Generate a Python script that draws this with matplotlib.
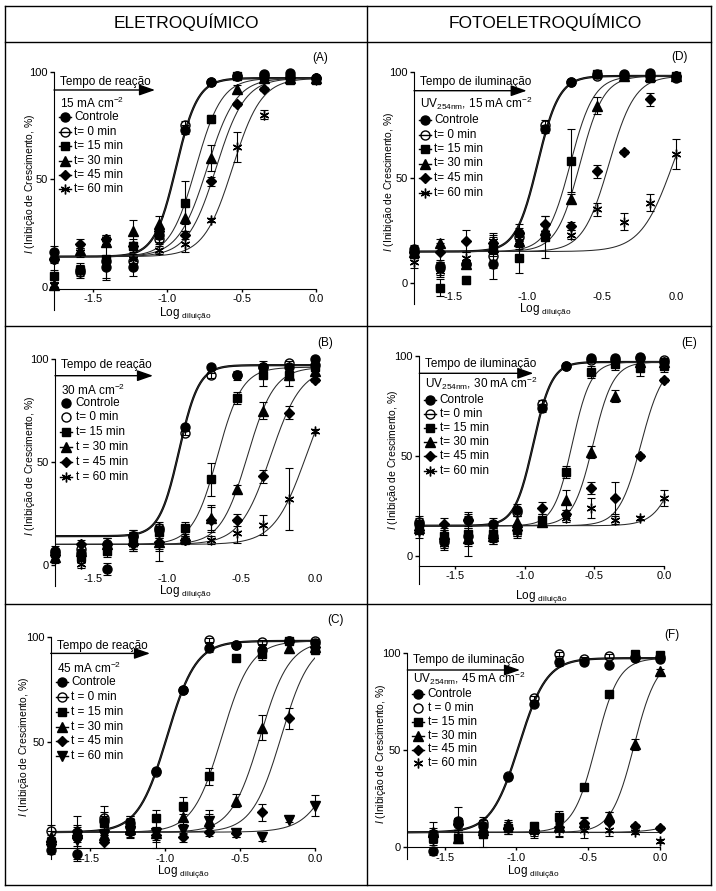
import numpy as np
import matplotlib
matplotlib.use('Agg')
import matplotlib.pyplot as plt
from matplotlib.lines import Line2D
from matplotlib.patches import FancyArrowPatch, ArrowStyle
from matplotlib import transforms

plt.rcParams['font.family'] = ['Liberation Sans', 'DejaVu Sans']
plt.rcParams['mathtext.fontset'] = 'custom'
plt.rcParams['mathtext.rm'] = 'Liberation Sans'
plt.rcParams['mathtext.it'] = 'Liberation Sans:italic'
plt.rcParams['mathtext.default'] = 'regular'

nan = np.nan

# log of the dilution (1.5-fold series)
LOGDIL = [-1.76, -1.584, -1.408, -1.232, -1.056, -0.88, -0.704, -0.528, -0.352, -0.176, 0.0]

# ---------------- Panel A : eletroquimico 15 mA cm-2 ----------------
A_ctrl = [16, 8, 9, 9, 24, 73, 95, 98, 99, 99.5, 97]
A_t0 = [13, 7, 12, 12, 22, 75, 95, 98, 98, 98, 97]
A_t15 = [5, 8, 13, 19, 25, 39, 78, 98, 98, 96, 96]
A_t30 = [1, 17, 21, 26, 29, 32, 60, 92, 97, 97, 97]
A_t45 = [13, 20, 22, 19, 26, 24, 49, 85, 92, 97, 97]
A_t60 = [1, 16, 22, 13, 17, 20, 31, 65, 80, 97, 96]
A_ctrl_e = [3, 2, 5, 4, 3, 2, 1, 1, 1, 1, 1]
A_t0_e = [2, 3, 2, 2, 2, 2, 1, 1, 1, 1, 1]
A_t15_e = [3, 3, 10, 3, 3, 10, 2, 1, 1, 1, 1]
A_t30_e = [1, 2, 2, 5, 4, 6, 6, 2, 1, 1, 1]
A_t45_e = [1, 2, 2, 2, 2, 2, 2, 1, 1, 1, 1]
A_t60_e = [1, 2, 2, 2, 2, 4, 1, 7, 2, 1, 1]
A_bottom = [14, 14, 14, 14, 14, 14]
A_top = [97, 97, 97, 97, 97, 97]
A_ec50 = [-0.94, -0.94, -0.807, -0.73, -0.67, -0.56]
A_hill = [6, 6, 5, 4.5, 4.5, 4.5]

# ---------------- Panel B : eletroquimico 30 mA cm-2 ----------------
B_ctrl = [7, 6, -2, 14, 17, 67, 96, 92, 96, 96, 100]
B_t0 = [6, 8, 10, 14, 18, 64, 92, 92, 96, 98, 97]
B_t15 = [6, 4, 7, 12, 16, 18, 41.6, 81, 92, 92, 96]
B_t30 = [4, 7, 10, 12, 11, 13, 23, 37, 75, 92, 94]
B_t45 = [5, 10, 10, 10, 11, 12, 22, 22, 43, 74, 90]
B_t60 = [3, 0.5, 8, 10, 10, 12, 12, 15.7, 19.4, 32, 65]
B_ctrl_e = [2, 2, 3, 3, 2, 1, 1, 2, 3, 1, 1]
B_t0_e = [2, 2, 3, 3, 3, 1, 1, 1, 1, 1, 1]
B_t15_e = [2, 3, 3, 4, 3, 3, 8, 3, 5, 5, 2]
B_t30_e = [2, 2, 3, 4, 9, 3, 6, 2, 4, 2, 2]
B_t45_e = [2, 2, 3, 3, 3, 2, 6, 3, 3, 3, 1]
B_t60_e = [2, 2, 3, 3, 3, 2, 2, 5, 5, 15, 1]
B_bottom = [14, 14, 10, 10, 10, 10]
B_top = [97, 97, 96, 96, 96, 96]
B_ec50 = [-0.92, -0.92, -0.66, -0.457, -0.30, -0.06]
B_hill = [6.5, 6.5, 5.2, 4.8, 4.2, 4.0]

# ---------------- Panel C : eletroquimico 45 mA cm-2 ----------------
C_ctrl = [-1, -3, 13, 10, 36.6, 74.8, 94.8, 96, 93.7, 98, 97]
C_t0 = [8, 5, 14, 12, 36, 75, 98.4, 96, 97.3, 98, 98]
C_t15 = [3, 6, 12, 12, 14, 20, 34, 90, 92, 98, 93.7]
C_t30 = [5, 7, 6, 9, 7, 14.5, 13, 22.4, 57, 94.5, 95]
C_t45 = [2, 8, 3, 7.7, 6, 5, 7.7, 7, 17, 61.4, 95]
C_t60 = [1, 4, 6, 8, 7, 8.5, 12.9, 7, 5.4, 13.2, 20]
C_ctrl_e = [2, 3, 7, 4, 1, 1, 2, 1, 3, 1, 1]
C_t0_e = [3, 10, 3, 3, 1, 1, 1, 1, 1, 1, 1]
C_t15_e = [3, 3, 3, 3, 4, 4, 4, 1, 3, 1, 1]
C_t30_e = [3, 3, 3, 3, 7, 3, 5, 3, 6, 2, 1]
C_t45_e = [3, 3, 3, 3, 3, 2, 2, 2, 4, 5, 1]
C_t60_e = [3, 3, 3, 3, 3, 2, 3, 2, 2, 1, 5]
C_bottom = [7.5, 7.5, 7.5, 7.5, 7.5, 7.5]
C_top = [98, 98, 98, 98, 98, 98]
C_ec50 = [-0.985, -0.985, -0.62, -0.365, -0.225, 0.2]
C_hill = [4.5, 4.5, 4.5, 4.5, 4.5, 4.0]

# ---------------- Panel D : fotoeletroquimico 15 mA cm-2 ----------------
D_ctrl = [16, 8, 9, 9, 24, 73, 95, 99, 99, 99.5, 97]
D_t0 = [15, 7, 9, 13, 22, 75, 95, 98, 98, 98, 98]
D_t15 = [14, -2, 1.5, 16, 12, 22, 58, 99, 98, 97, 98]
D_t30 = [15, 19, 9, 17, 20, 25, 40, 84, 98, 98, 98]
D_t45 = [15, 15, 20, 19, 24, 28, 27, 53, 62, 87, 98]
D_t60 = [10, 6, 12, 20, 20, 24, 23, 35, 29, 38, 61]
D_ctrl_e = [2, 2, 2, 2, 2, 2, 1, 1, 1, 1, 1]
D_t0_e = [2, 3, 2, 11, 2, 2, 1, 1, 1, 1, 1]
D_t15_e = [2, 4, 2, 3, 7, 10, 15, 1, 1, 1, 1]
D_t30_e = [2, 2, 2, 3, 3, 3, 2, 4, 1, 1, 1]
D_t45_e = [2, 4, 5, 3, 4, 4, 2, 3, 1, 3, 1]
D_t60_e = [3, 3, 3, 3, 4, 3, 2, 3, 4, 4, 7]
D_bottom = [15, 15, 15, 15, 15, 15]
D_top = [98, 98, 98, 98, 98, 98]
D_ec50 = [-0.93, -0.93, -0.71, -0.645, -0.45, -0.02]
D_hill = [6, 6, 5.5, 5.5, 5, 4]

# ---------------- Panel E : fotoeletroquimico 30 mA cm-2 ----------------
E_ctrl = [16, 8, 18, 16, 23, 74, 95, 99, 99, 99.3, 97]
E_t0 = [17, 7, 10, 10, 22, 76, 95, 98, 98, 99, 98]
E_t15 = [15, 10, 11, 11, 13, 18, 42, 92, 96, 94, 95]
E_t30 = [14, 11, 9, 10, 17, 17, 28, 52, 80, 97, 97]
E_t45 = [13, 16, 18, 9, 13, 24, 21, 34, 29, 50, 88]
E_t60 = [12, 6, 8, 12, 12, 17, 19, 24, 18, 19, 29]
E_ctrl_e = [3, 2, 4, 3, 3, 2, 1, 1, 1, 1, 1]
E_t0_e = [3, 3, 10, 4, 2, 2, 1, 1, 1, 1, 1]
E_t15_e = [3, 3, 3, 3, 3, 3, 3, 3, 3, 4, 3]
E_t30_e = [3, 3, 3, 3, 3, 2, 5, 3, 3, 1, 2]
E_t45_e = [2, 3, 3, 3, 3, 3, 2, 3, 8, 1, 1]
E_t60_e = [3, 3, 3, 3, 3, 2, 2, 5, 2, 1, 4]
E_bottom = [15, 15, 15, 15, 15, 15]
E_top = [97, 97, 97, 97, 97, 97]
E_ec50 = [-0.94, -0.94, -0.66, -0.51, -0.165, 0.144]
E_hill = [6.5, 6.5, 6.5, 6, 5.5, 5]

# ---------------- Panel F : fotoeletroquimico 45 mA cm-2 ----------------
F_ctrl = [nan, -2, 13.6, 11, 36, 74, 95.7, 95.7, 94, 97.4, 97]
F_t0 = [nan, 7, 12, 12.7, 37, 77, 99.7, 97, 98.8, 98, 98]
F_t15 = [nan, 5, 5, 7, 10, 11, 15.5, 31, 79, 99.5, 99]
F_t30 = [nan, 8, 5, 9, 12, 10, 11, 13, 16, 53, 91]
F_t45 = [nan, 6, 12, 8, 10, 9, 10.3, 12.4, 13, 11.2, 9.8]
F_t60 = [nan, 4, 6, 9, 10, 8, 9, 9, 9, 7.7, 3.4]
F_ctrl_e = [nan, 2, 7, 3, 1, 1, 2, 1, 1, 1, 1]
F_t0_e = [nan, 3, 3, 3, 1, 1, 1, 1, 1, 1, 1]
F_t15_e = [nan, 3, 3, 7, 2, 2, 3, 1, 1, 1, 1]
F_t30_e = [nan, 5, 3, 3, 2, 2, 2, 2, 2, 3, 1]
F_t45_e = [nan, 3, 3, 3, 3, 3, 5, 3, 5, 1, 1]
F_t60_e = [nan, 3, 3, 3, 3, 3, 3, 4, 3, 1, 1]
F_bottom = [7.7, 7.7, 7.7, 7.7, 7.7, 7.7]
F_top = [97.5, 97.5, 97.5, 97.5, 97.5, 97.5]
F_ec50 = [-0.982, -0.982, -0.446, -0.18, 0.4, nan]
F_hill = [4.5, 4.5, 5.5, 5.5, 4, nan]

LABELS_A = ['Controle', 't= 0 min', 't= 15 min', 't= 30 min', 't= 45 min', 't= 60 min']
LABELS_B = ['Controle', 't= 0 min', 't= 15 min', 't = 30 min', 't = 45 min', 't = 60 min']
LABELS_C = ['Controle', 't = 0 min', 't = 15 min', 't = 30 min', 't = 45 min', 't = 60 min']
LABELS_F = ['Controle', 't = 0 min', 't= 15 min', 't= 30 min', 't= 45 min', 't= 60 min']

# ---------------- styles ----------------
STAR = (6, 2, 0)
MARKERS = ['o', 'o', 's', '^', 'D', STAR]
MSIZE = {'o': 6.5, 's': 5.5, '^': 6.5, 'D': 4.8, 'v': 6.5, STAR: 7}

W, H = 716, 891
fig = plt.figure(figsize=(W / 100, H / 100), dpi=100)


def px(x, y):
    return (x / W, 1 - y / H)


def sigmoid(x, bottom, top, ec50, hill):
    return bottom + (top - bottom) / (1 + 10 ** ((ec50 - x) * hill))


panels = [
    dict(tag='(A)', data=[A_ctrl, A_t0, A_t15, A_t30, A_t45, A_t60],
         err=[A_ctrl_e, A_t0_e, A_t15_e, A_t30_e, A_t45_e, A_t60_e],
         fit=(A_bottom, A_top, A_ec50, A_hill), labels=LABELS_A, lines=[1, 1, 1, 1, 1, 1],
         title='Tempo de reação', cond='15 mA cm$^{-2}$', m6=STAR,
         xl=54, x0=316, y100=71.7, y0=286.7, ymin=-11, xline=-1, xvis=True,
         ylab_x=30, xlab_y=314, tag_xy=(320, 58),
         arr=(18.3, 101), tdy=10, cdy=31.6, e0=45.6, es=14.4),
    dict(tag='(B)', data=[B_ctrl, B_t0, B_t15, B_t30, B_t45, B_t60],
         err=[B_ctrl_e, B_t0_e, B_t15_e, B_t30_e, B_t45_e, B_t60_e],
         fit=(B_bottom, B_top, B_ec50, B_hill), labels=LABELS_B, lines=[0, 0, 1, 1, 1, 1],
         title='Tempo de reação', cond='30 mA cm$^{-2}$', m6=STAR,
         xl=55, x0=315, y100=359, y0=565, ymin=-10, xline=-1.5, xvis=False,
         ylab_x=30, xlab_y=591, tag_xy=(325, 343),
         arr=(16.7, 98), tdy=6, cdy=31.7, e0=43.7, es=14.8),
    dict(tag='(C)', data=[C_ctrl, C_t0, C_t15, C_t30, C_t45, C_t60],
         err=[C_ctrl_e, C_t0_e, C_t15_e, C_t30_e, C_t45_e, C_t60_e],
         fit=(C_bottom, C_top, C_ec50, C_hill), labels=LABELS_C, lines=[1, 1, 1, 1, 1, 1],
         title='Tempo de reação', cond='45 mA cm$^{-2}$', m6='v',
         xl=50.7, x0=315, y100=636.7, y0=848, ymin=-5, xline=0, xvis=True, hide0=True,
         ylab_x=24, xlab_y=871, tag_xy=(335, 620),
         arr=(16.7, 99.3), tdy=9, cdy=31.7, e0=45.7, es=14.7),
    dict(tag='(D)', data=[D_ctrl, D_t0, D_t15, D_t30, D_t45, D_t60],
         err=[D_ctrl_e, D_t0_e, D_t15_e, D_t30_e, D_t45_e, D_t60_e],
         fit=(D_bottom, D_top, D_ec50, D_hill), labels=LABELS_A, lines=[1, 1, 1, 1, 1, 1],
         title='Tempo de iluminação', cond='UV$_{254nm}$, 15 mA cm$^{-2}$', m6=STAR,
         xl=414, x0=676, y100=71.7, y0=283.3, ymin=-10, xline=-1.5, xvis=False,
         ylab_x=389, xlab_y=310, tag_xy=(680, 57),
         arr=(19, 112.7), tdy=10, cdy=31.6, e0=48.3, es=14.5),
    dict(tag='(E)', data=[E_ctrl, E_t0, E_t15, E_t30, E_t45, E_t60],
         err=[E_ctrl_e, E_t0_e, E_t15_e, E_t30_e, E_t45_e, E_t60_e],
         fit=(E_bottom, E_top, E_ec50, E_hill), labels=LABELS_A, lines=[1, 1, 1, 1, 1, 1],
         title='Tempo de iluminação', cond='UV$_{254nm}$, 30 mA cm$^{-2}$', m6=STAR,
         xl=419.3, x0=664, y100=356, y0=555.7, ymin=-14, xline=-5, xvis=True,
         ylab_x=393, xlab_y=597, tag_xy=(689, 343),
         arr=(17.3, 114), tdy=8, cdy=27.3, e0=44, es=14.1),
    dict(tag='(F)', data=[F_ctrl, F_t0, F_t15, F_t30, F_t45, F_t60],
         err=[F_ctrl_e, F_t0_e, F_t15_e, F_t30_e, F_t45_e, F_t60_e],
         fit=(F_bottom, F_top, F_ec50, F_hill), labels=LABELS_F, lines=[1, 0, 1, 1, 1, 0],
         title='Tempo de iluminação', cond='UV$_{254nm}$, 45 mA cm$^{-2}$', m6=STAR,
         xl=407.3, x0=660, y100=653.3, y0=847.3, ymin=-6, xline=0, xvis=True,
         ylab_x=381, xlab_y=872, tag_xy=(672, 635),
         arr=(16.7, 112.7), tdy=6.7, cdy=25, e0=41, es=13.8),
]

xfine = np.linspace(-1.76, 0, 300)

for p in panels:
    sy = (p['y0'] - p['y100']) / 100.0
    bot_px = p['y0'] - p['ymin'] * sy
    top_px = p['y100'] - 4 * sy
    ax = fig.add_axes([p['xl'] / W, 1 - bot_px / H, (p['x0'] - p['xl']) / W,
                       (bot_px - top_px) / H])
    ax.set_xlim(-1.76, 0)
    ax.set_ylim(p['ymin'], 104)
    ax.patch.set_visible(False)

    # Axes
    for s in ['top', 'right']:
        ax.spines[s].set_visible(False)
    ax.spines['left'].set_bounds(p['ymin'], 100)
    ax.spines['bottom'].set_position(('data', p['xline']))
    ax.spines['bottom'].set_bounds(-1.76, 0)
    ax.set_yticks([0, 50, 100])
    ax.set_yticklabels(['' if p.get('hide0') else '0', '50', '100'])
    ax.set_xticks([-1.5, -1.0, -0.5, 0.0])
    ax.set_xticklabels(['-1.5', '-1.0', '-0.5', '0.0'])
    ax.tick_params(axis='y', length=3, width=1, pad=1.5, labelsize=8)
    ax.tick_params(axis='x', length=2.5, width=1, pad=1.5, labelsize=8)
    if not p['xvis']:
        ax.spines['bottom'].set_color('none')
        ax.tick_params(axis='x', length=0, pad=4)

    # Fitted curves
    bottom, top, ec50, hill = p['fit']
    for i in range(6):
        if np.isnan(ec50[i]):
            yc = np.full_like(xfine, bottom[i])
        else:
            yc = sigmoid(xfine, bottom[i], top[i], ec50[i], hill[i])
        if i == 0:
            ax.plot(xfine, yc, color='k', lw=1.6, zorder=2)
        else:
            ax.plot(xfine, yc, color='#2a2a2a', lw=0.75, zorder=2)

    # Points with error bars
    markers = MARKERS[:5] + [p['m6']]
    for i in range(6):
        y = np.array(p['data'][i], dtype=float)
        e = np.array(p['err'][i], dtype=float)
        cont = ax.errorbar(LOGDIL, y, yerr=e, fmt='none', ecolor='k', elinewidth=0.8,
                           capsize=3, capthick=0.8, zorder=3)
        for art in cont.get_children():
            art.set_clip_on(False)
        m = markers[i]
        ax.plot(LOGDIL, y, ls='none', marker=m, ms=MSIZE[m],
                mfc='none' if i == 1 else 'k', mec='k', mew=1.0,
                clip_on=False, zorder=4)

    # Axis labels
    tr = transforms.blended_transform_factory(fig.transFigure, ax.transData)
    ax.text(p['ylab_x'] / W, 48, '$\\mathit{I}$ (Inibição de Crescimento, %)', transform=tr,
            rotation=90, ha='center', va='center', fontsize=7.5)
    fig.text(*px((p['xl'] + p['x0']) / 2, p['xlab_y']), 'Log $_{diluição}$',
             ha='center', va='center', fontsize=8.5)
    fig.text(*px(*p['tag_xy']), p['tag'], ha='center', va='center', fontsize=8.5)

    # Legend block
    ox, oy = p['xl'], p['y100']
    ady, adx = p['arr']
    arrow = FancyArrowPatch(px(ox, oy + ady), px(ox + adx, oy + ady),
                            arrowstyle=ArrowStyle('-|>', head_length=0.8, head_width=0.28),
                            mutation_scale=12, lw=1, color='k', shrinkA=0, shrinkB=0,
                            transform=fig.transFigure)
    fig.add_artist(arrow)
    fig.text(*px(ox + 6, oy + p['tdy']), p['title'], ha='left', va='center', fontsize=8.5)
    fig.text(*px(ox + 6, oy + p['cdy']), p['cond'], ha='left', va='center', fontsize=8.5)
    for i in range(6):
        ly = oy + p['e0'] + i * p['es']
        mx = ox + 11
        if p['lines'][i]:
            fig.add_artist(Line2D([(mx - 6) / W, (mx + 6) / W], [1 - ly / H, 1 - ly / H],
                                  color='k', lw=1, transform=fig.transFigure))
        m = markers[i]
        fig.add_artist(Line2D([mx / W], [1 - ly / H], ls='none', marker=m, ms=MSIZE[m],
                              mfc='none' if i == 1 else 'k', mec='k', mew=1.0,
                              transform=fig.transFigure))
        fig.text(*px(ox + 20.5, ly), p['labels'][i], ha='left', va='center', fontsize=8.5)

# Frame and headers
frame = [((5, 6), (711, 6)), ((5, 885), (711, 885)), ((5, 6), (5, 885)),
         ((711, 6), (711, 885)), ((366.7, 6), (366.7, 885)),
         ((5, 42), (711, 42)), ((5, 326), (711, 326)), ((5, 604), (711, 604))]
for (x1, y1), (x2, y2) in frame:
    fig.add_artist(Line2D([x1 / W, x2 / W], [1 - y1 / H, 1 - y2 / H], color='k', lw=1,
                          transform=fig.transFigure))
fig.text(*px(186, 22), 'ELETROQUÍMICO', ha='center', va='center', fontsize=12.5)
fig.text(*px(545, 22), 'FOTOELETROQUÍMICO', ha='center', va='center', fontsize=12.5)

plt.savefig('out.png', dpi=100)
